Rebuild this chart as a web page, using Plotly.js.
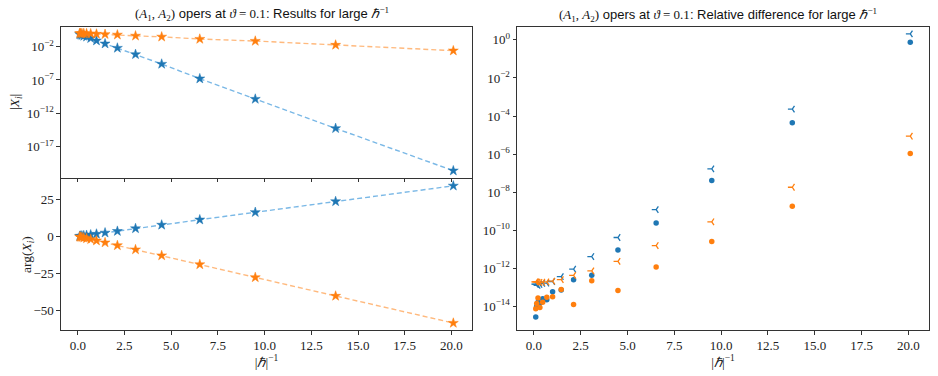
<!DOCTYPE html>
<html>
<head>
<meta charset="utf-8">
<script src="https://cdn.plot.ly/plotly-3.0.1.min.js"></script>
<style>
  html, body { margin: 0; padding: 0; background: #ffffff; }
  #plot { width: 938px; height: 376px; }
</style>
</head>
<body>
<div id="plot"></div>
<script>
const hbarInv = [0.1, 0.15, 0.22, 0.32, 0.47, 0.69, 1.0, 1.46, 2.12, 3.09, 4.49, 6.53, 9.5, 13.8, 20.1];

// |X_i| (left, top)
const absX1 = [0.75, 0.6, 0.5, 0.4, 0.3, 0.18, 0.08, 0.028, 6.3e-3, 7e-4, 2.5e-5, 1.6e-7, 1.4e-10, 5.6e-15, 2.5e-21];
const absX2 = [1.0, 0.99, 0.98, 0.96, 0.93, 0.89, 0.8, 0.72, 0.6, 0.42, 0.3, 0.14, 0.07, 0.018, 2.5e-3];

// arg(X_i) (left, bottom)
const argX1 = [0.15, 0.25, 0.35, 0.5, 0.75, 1.1, 1.6, 2.4, 3.5, 5.3, 7.7, 11.2, 16.2, 23.5, 34.0];
const argX2 = [-0.3, -0.45, -0.65, -0.95, -1.4, -2.0, -2.9, -4.2, -6.1, -8.9, -12.9, -18.9, -27.6, -40.1, -58.3];

// relative differences (right)
const relDot1 = [2.7e-15, 1.0e-14, 1.6e-14, 1.45e-14, 2.5e-14, 2.2e-14, 5.8e-14, 7.2e-14, 2.5e-13, 4.3e-13, 9.1e-12, 2.4e-10, 4.1e-8, 4.4e-5, 0.76];
const relTri1 = [1.45e-13, 1.4e-13, 1.26e-13, 1.4e-13, 1.6e-13, 1.65e-13, 2.0e-13, 3.6e-13, 8.9e-13, 4.1e-12, 4.1e-11, 1.2e-9, 1.66e-7, 2.3e-4, 2.07];
const relDot2 = [7.4e-15, 1.38e-14, 2.7e-14, 8.5e-15, 1.6e-14, 3.0e-14, 3.2e-14, 7.6e-14, 1.23e-14, 2.2e-13, 6.8e-14, 1.17e-12, 2.5e-11, 1.8e-9, 1.07e-6];
const relTri2 = [1.9e-13, 1.9e-13, 1.86e-13, 1.78e-13, 1.82e-13, 1.9e-13, 2.1e-13, 2.5e-13, 4.2e-13, 7.2e-13, 2.3e-12, 1.55e-11, 2.75e-10, 1.8e-8, 8.7e-6];

// tick labels
const xTickVals = [0, 2.5, 5, 7.5, 10, 12.5, 15, 17.5, 20];
const absExponents = [-2, -7, -12, -17];
const relExponents = [0, -2, -4, -6, -8, -10, -12, -14];
const argTicks = [-50, -25, 0, 25];

const blue = '#1f77b4';
const orange = '#ff7f0e';
const lightBlue = '#7ab8e6';
const lightOrange = '#ffb97d';
const serif = 'Liberation Serif';
const sans = 'Liberation Sans';
const frame = '#333333';
const textColor = '#222222';

function m(s) {
  return `<span style="font-family:${serif}">${s}</span>`;
}

function powLabel(e) {
  return '10<sup>' + (e < 0 ? '−' + Math.abs(e) : e) + '</sup>';
}

function starTrace(y, markerColor, lineColor, xa, ya) {
  return {
    x: hbarInv,
    y,
    xaxis: xa,
    yaxis: ya,
    type: 'scatter',
    mode: 'lines+markers',
    line: { color: lineColor, width: 1.4, dash: '5px,3px' },
    marker: { symbol: 'star', size: 7.5, color: markerColor, line: { color: markerColor, width: 0.5 } },
    showlegend: false,
  };
}

function pointTrace(y, color, symbol) {
  const isTri = symbol === 'y-left';
  return {
    x: hbarInv,
    y,
    xaxis: 'x3',
    yaxis: 'y3',
    type: 'scatter',
    mode: 'markers',
    marker: isTri
      ? { symbol, size: 5.5, color, line: { color, width: 1.3 } }
      : { symbol, size: 5.5, color, line: { width: 0 } },
    showlegend: false,
  };
}

const axisBase = {
  showline: true,
  mirror: true,
  linecolor: frame,
  linewidth: 1,
  ticks: 'outside',
  ticklen: 3.5,
  tickwidth: 0.8,
  tickcolor: frame,
  showgrid: false,
  zeroline: false,
  tickfont: { family: serif, size: 13, color: textColor },
};

const titleFont = { family: serif, size: 13.5, color: textColor };
const xTitle = { text: '|<i>ℏ</i>|<sup>−1</sup>', font: titleFont, standoff: 4 };

const data = [
  starTrace(absX1, blue, lightBlue, 'x', 'y'),
  starTrace(absX2, orange, lightOrange, 'x', 'y'),
  starTrace(argX1, blue, lightBlue, 'x2', 'y2'),
  starTrace(argX2, orange, lightOrange, 'x2', 'y2'),
  pointTrace(relDot1, blue, 'circle'),
  pointTrace(relTri1, blue, 'y-left'),
  pointTrace(relDot2, orange, 'circle'),
  pointTrace(relTri2, orange, 'y-left'),
];

const layout = {
  width: 938,
  height: 376,
  margin: { l: 0, r: 0, t: 0, b: 0 },
  paper_bgcolor: '#ffffff',
  plot_bgcolor: '#ffffff',
  showlegend: false,
  xaxis: Object.assign({}, axisBase, {
    domain: [0.065, 0.5032],
    anchor: 'y',
    range: [-0.9, 21.1],
    tickvals: xTickVals,
    showticklabels: false,
    matches: 'x2',
  }),
  yaxis: Object.assign({}, axisBase, {
    domain: [0.5266, 0.9282],
    anchor: 'x',
    type: 'log',
    range: [-21.7, 0.95],
    tickvals: absExponents.map((e) => Math.pow(10, e)),
    ticktext: absExponents.map(powLabel),
  }),
  xaxis2: Object.assign({}, axisBase, {
    domain: [0.065, 0.5032],
    anchor: 'y2',
    range: [-0.9, 21.1],
    tickvals: xTickVals,
    tickformat: '.1f',
    title: xTitle,
  }),
  yaxis2: Object.assign({}, axisBase, {
    domain: [0.1223, 0.5240],
    anchor: 'x2',
    range: [-63, 38.6],
    tickvals: argTicks,
  }),
  xaxis3: Object.assign({}, axisBase, {
    domain: [0.5512, 0.9904],
    anchor: 'y3',
    range: [-0.9, 21.1],
    tickvals: xTickVals,
    tickformat: '.1f',
    title: xTitle,
  }),
  yaxis3: Object.assign({}, axisBase, {
    domain: [0.1223, 0.9282],
    anchor: 'x3',
    type: 'log',
    range: [-15.25, 0.68],
    tickvals: relExponents.map((e) => Math.pow(10, e)),
    ticktext: relExponents.map(powLabel),
  }),
  annotations: [
    {
      text: m('(<i>A</i><sub>1</sub>, <i>A</i><sub>2</sub>)') + ' opers at ' + m('<i>ϑ</i> = 0.1') + ': Results for large ' + m('<i>ℏ</i><sup>−1</sup>'),
      xref: 'paper', yref: 'paper',
      x: 133 / 938, y: 1 - 14 / 376,
      xanchor: 'left', yanchor: 'middle',
      showarrow: false,
      font: { family: sans, size: 13, color: '#111' },
    },
    {
      text: m('(<i>A</i><sub>1</sub>, <i>A</i><sub>2</sub>)') + ' opers at ' + m('<i>ϑ</i> = 0.1') + ': Relative difference for large ' + m('<i>ℏ</i><sup>−1</sup>'),
      xref: 'paper', yref: 'paper',
      x: 557 / 938, y: 1 - 15 / 376,
      xanchor: 'left', yanchor: 'middle',
      showarrow: false,
      font: { family: sans, size: 13, color: '#111' },
    },
    {
      text: '|<i>X<sub>i</sub></i>|',
      xref: 'paper', yref: 'paper',
      x: 16 / 938, y: 1 - 102 / 376,
      xanchor: 'center', yanchor: 'middle',
      textangle: -90,
      showarrow: false,
      font: titleFont,
    },
    {
      text: 'arg(<i>X<sub>i</sub></i>)',
      xref: 'paper', yref: 'paper',
      x: 27 / 938, y: 1 - 255 / 376,
      xanchor: 'center', yanchor: 'middle',
      textangle: -90,
      showarrow: false,
      font: titleFont,
    },
  ],
};

Plotly.newPlot('plot', data, layout, { displayModeBar: false });
</script>
</body>
</html>
